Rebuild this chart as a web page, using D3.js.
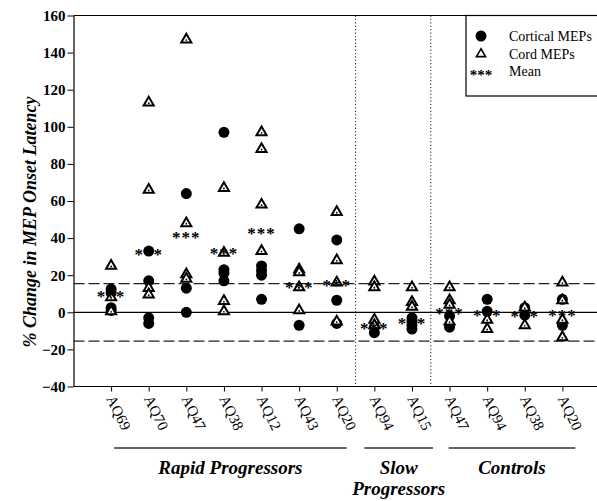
<!DOCTYPE html>
<html>
<head>
<meta charset="utf-8">
<script src="https://cdn.jsdelivr.net/npm/d3@7"></script>
<style>
  body { margin: 0; background: #fff; }
  svg { display: block; }
</style>
</head>
<body>
<svg id="graphic" width="597" height="501"></svg>
<script>
// subjects along the x axis, in order
const categories = ['AQ69', 'AQ70', 'AQ47', 'AQ38', 'AQ12', 'AQ43', 'AQ20', 'AQ94', 'AQ15', 'AQ47', 'AQ94', 'AQ38', 'AQ20'];
const groupNames = [['Rapid Progressors'], ['Slow', 'Progressors'], ['Controls']];
const groupSizes = [7, 2, 4];

// % change in MEP onset latency, per subject
const corticalValues = [
  [12.5, 10.5, 2.5, 1], [33, 17, -3, -6], [64, 13, 0], [97, 23, 21, 17], [25, 22.5, 20, 7],
  [45, -7], [39, 6.5, -6], [-8, -11], [-3, -5, -7, -9], [-2, -8], [7, 0.5], [2.5, -1.5], [7, -7],
];
const cordValues = [
  [25, 8, 0.5], [113, 66, 13, 9.5], [147, 48, 20.5, 18], [67, 32, 6, 0.5], [97, 88, 58, 33],
  [23, 21.5, 13.5, 1], [54, 28, 16, -5], [16.5, 13.5, -4, -7], [13.5, 5.5, 3], [13.5, 6.5, 4, -5],
  [-4, -9], [2.5, -7], [16, 6.5, -4, -13.5],
];
const meanValues = [10.5, 33, 42, 33.5, 44.5, 15, 16.5, -7, -4, 1, 0, -0.5, 0.3];

const yTicks = [-40, -20, 0, 20, 40, 60, 80, 100, 120, 140, 160];
const normalLimits = [15.5, -15.5];

const margins = {left: 73.5, top: 15.5, right: 600, bottom: 386.5};
const serif = '"Liberation Serif", "Times New Roman", serif';

const svg = d3.select('#graphic');
const keys = categories.map((c, i) => `${i}-${c}`);

const xScale = d3.scalePoint()
    .domain(keys)
    .range([margins.left, margins.right])
    .padding(1);

const yScale = d3.scaleLinear()
    .domain([-40, 160])
    .range([margins.bottom, margins.top]);

// frame top
svg.append('line')
    .attr('x1', margins.left).attr('x2', 597)
    .attr('y1', margins.top).attr('y2', margins.top)
    .attr('stroke', '#000').attr('stroke-width', 1.2);

// y axis
const yAxis = svg.append('g')
    .attr('transform', `translate(${margins.left},0)`)
    .attr('font-family', serif)
    .call(d3.axisLeft(yScale).tickValues(yTicks).tickSize(6).tickSizeOuter(0));
yAxis.attr('font-family', serif).attr('font-size', 15).attr('font-weight', 'bold');
yAxis.select('.domain').attr('stroke-width', 1.2);
yAxis.selectAll('text')
    .attr('fill', '#000')
    .attr('x', -8);

// x axis
const xAxis = svg.append('g')
    .attr('transform', `translate(0,${margins.bottom})`)
    .call(d3.axisBottom(xScale).tickSize(5).tickSizeOuter(0).tickFormat(''));
xAxis.select('.domain').attr('stroke-width', 1.2).attr('d', `M${margins.left},0H597`);

// rotated subject labels
svg.append('g')
    .selectAll('text')
    .data(keys)
    .join('text')
    .attr('transform', (d) => `translate(${xScale(d) - 5},${margins.bottom + 12}) rotate(64)`)
    .attr('font-family', serif)
    .attr('font-size', 15)
    .text((d, i) => categories[i]);

// y title
svg.append('text')
    .attr('transform', 'translate(36,222) rotate(-90)')
    .attr('text-anchor', 'middle')
    .attr('font-family', serif)
    .attr('font-weight', 'bold')
    .attr('font-style', 'italic')
    .attr('font-size', 18)
    .text('% Change in MEP Onset Latency');

// reference lines
svg.append('line')
    .attr('x1', margins.left).attr('x2', 597)
    .attr('y1', yScale(0)).attr('y2', yScale(0))
    .attr('stroke', '#000').attr('stroke-width', 1.2);

svg.selectAll('.limit')
    .data(normalLimits)
    .join('line')
    .classed('limit', true)
    .attr('x1', margins.left).attr('x2', 597)
    .attr('y1', (d) => yScale(d)).attr('y2', (d) => yScale(d))
    .attr('stroke', '#222').attr('stroke-width', 1.2)
    .attr('stroke-dasharray', '11,4');

// group separators and labels
let start = 0;
const bounds = groupSizes.map((n) => {
  const b = [start, start + n - 1];
  start += n;
  return b;
});

svg.selectAll('.sep')
    .data(bounds.slice(1))
    .join('line')
    .classed('sep', true)
    .attr('x1', (d) => xScale(keys[d[0]]) - xScale.step() / 2)
    .attr('x2', (d) => xScale(keys[d[0]]) - xScale.step() / 2)
    .attr('y1', margins.top).attr('y2', margins.bottom)
    .attr('stroke', '#333').attr('stroke-width', 1.1)
    .attr('stroke-dasharray', '1.2,2.2');

const under = [[3, 10], [-10, 21], [-1, 13]];
bounds.forEach((b, i) => {
  const x0 = xScale(keys[b[0]]) + under[i][0];
  const x1 = xScale(keys[b[1]]) + under[i][1];
  svg.append('line')
      .attr('x1', x0).attr('x2', x1)
      .attr('y1', 448).attr('y2', 448)
      .attr('stroke', '#333').attr('stroke-width', 1.3);
  svg.append('text')
      .attr('x', (x0 + x1) / 2)
      .attr('y', 474)
      .attr('text-anchor', 'middle')
      .attr('font-family', serif)
      .attr('font-weight', 'bold')
      .attr('font-style', 'italic')
      .attr('font-size', 19)
      .selectAll('tspan')
      .data(groupNames[i])
      .join('tspan')
      .attr('x', (x0 + x1) / 2)
      .attr('dy', (d, j) => (j ? 21 : 0))
      .text((d) => d);
});

// points
const cortical = keys.flatMap((k, i) => corticalValues[i].map((v) => ({k, v})));
const cord = keys.flatMap((k, i) => cordValues[i].map((v) => ({k, v})));
const tri = d3.symbol().type(d3.symbolTriangle).size(44);

svg.append('g')
    .selectAll('circle')
    .data(cortical)
    .join('circle')
    .attr('cx', (d) => xScale(d.k))
    .attr('cy', (d) => yScale(d.v))
    .attr('r', 5.5)
    .attr('fill', '#000');

const cordG = svg.append('g')
    .selectAll('g')
    .data(cord)
    .join('g')
    .attr('transform', (d) => `translate(${xScale(d.k)},${yScale(d.v)})`);
cordG.append('path')
    .attr('d', tri)
    .attr('fill', '#fff')
    .attr('stroke', '#000')
    .attr('stroke-width', 2);
cordG.append('circle')
    .attr('cy', 0.5)
    .attr('r', 0.9)
    .attr('fill', '#000');

svg.append('g')
    .selectAll('text')
    .data(meanValues)
    .join('text')
    .attr('x', (d, i) => xScale(keys[i]))
    .attr('y', (d) => yScale(d) + 9)
    .attr('text-anchor', 'middle')
    .attr('font-family', serif)
    .attr('font-weight', 'bold')
    .attr('font-size', 17)
    .attr('letter-spacing', 1)
    .text('***');

// legend
const legend = svg.append('g');
legend.append('rect')
    .attr('x', 466).attr('y', margins.top)
    .attr('width', 140).attr('height', 80.5)
    .attr('fill', '#fff')
    .attr('stroke', '#000').attr('stroke-width', 1.2);
legend.append('circle')
    .attr('cx', 481).attr('cy', 36).attr('r', 5.5).attr('fill', '#000');
legend.append('path')
    .attr('transform', 'translate(481,54)')
    .attr('d', d3.symbol().type(d3.symbolTriangle).size(36))
    .attr('fill', '#fff').attr('stroke', '#000').attr('stroke-width', 1.6);
legend.append('text')
    .attr('x', 481).attr('y', 80)
    .attr('text-anchor', 'middle')
    .attr('font-family', serif)
    .attr('font-weight', 'bold')
    .attr('font-size', 15)
    .text('***');
legend.selectAll('.lab')
    .data(['Cortical MEPs', 'Cord MEPs', 'Mean'])
    .join('text')
    .classed('lab', true)
    .attr('x', 509)
    .attr('y', (d, i) => 41 + i * 17.5)
    .attr('font-family', serif)
    .attr('font-size', 14)
    .text((d) => d);
</script>
</body>
</html>
